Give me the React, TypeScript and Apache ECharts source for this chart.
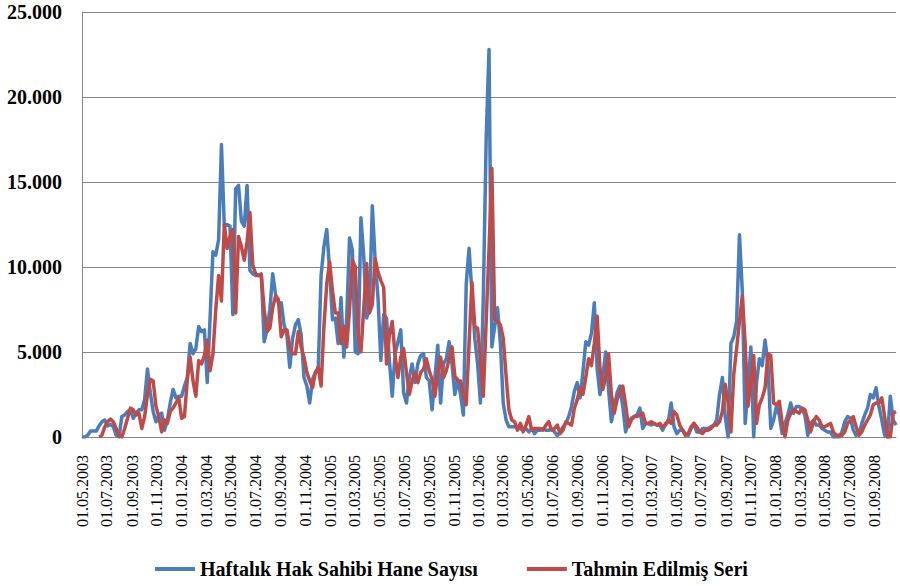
import React, { useEffect, useRef } from "react";
import * as echarts from "echarts";

const startDate = "01.05.2003";

const tickLabels = [
  "01.05.2003", "01.07.2003", "01.09.2003", "01.11.2003",
  "01.01.2004", "01.03.2004", "01.05.2004", "01.07.2004", "01.09.2004", "01.11.2004",
  "01.01.2005", "01.03.2005", "01.05.2005", "01.07.2005", "01.09.2005", "01.11.2005",
  "01.01.2006", "01.03.2006", "01.05.2006", "01.07.2006", "01.09.2006", "01.11.2006",
  "01.01.2007", "01.03.2007", "01.05.2007", "01.07.2007", "01.09.2007", "01.11.2007",
  "01.01.2008", "01.03.2008", "01.05.2008", "01.07.2008", "01.09.2008",
];

const observedName = "Haftalık Hak Sahibi Hane Sayısı";
const estimatedName = "Tahmin Edilmiş Seri";

// weekly observed values
const observed = [
  0, 0, 100, 350, 350, 350, 650, 900, 1000, 650,
  750, 600, 100, 0, 1200, 1300, 1500, 1600, 1100, 1400,
  1600, 1600, 2200, 4000, 2600, 1500, 900, 1300, 1400, 400,
  1000, 2000, 2800, 2300, 2400, 2400, 3000, 3500, 5500, 4900,
  5200, 6500, 6200, 6300, 3200, 7000, 10900, 10700, 11600, 17200,
  12400, 12500, 12400, 7200, 14600, 14800, 12700, 12400, 14800, 9800,
  9600, 9500, 9500, 9600, 5600, 6300, 7500, 9600, 8400, 7900,
  7900, 6600, 6000, 4100, 5800, 6600, 6900, 6000, 3500, 3000,
  2000, 3400, 3800, 4000, 9500, 11200, 12200, 9800, 6900, 7000,
  5500, 8200, 4700, 7000, 11700, 11000, 5000, 4900, 12900, 10600,
  7000, 7600, 13600, 10400, 8200, 4500, 7200, 7000, 4500, 2400,
  4900, 5600, 6300, 2600, 2000, 3500, 4300, 3200, 4300, 4800,
  4900, 3500, 3300, 1600, 3500, 5400, 2000, 4300, 4600, 5600,
  4300, 2500, 3400, 2500, 1300, 9000, 11100, 8500, 5800, 4300,
  2000, 8200, 17500, 22800, 5300, 6500, 7600, 5500, 2000, 1000,
  600, 600, 600, 500, 500, 400, 500, 300, 500, 200,
  400, 400, 500, 400, 400, 500, 300, 100, 300, 600,
  800, 1200, 1800, 2700, 3200, 2300, 3800, 5600, 5400, 6100,
  7900, 4000, 2500, 3600, 5000, 2800, 900, 1800, 2600, 3000,
  1800, 300, 900, 1100, 1200, 1300, 1700, 500, 800, 800,
  700, 800, 700, 700, 400, 800, 900, 2000, 600, 200,
  400, 400, 200, 100, 500, 800, 300, 300, 500, 500,
  500, 600, 700, 1000, 2500, 3500, 1200, 0, 5500, 5900,
  6800, 11900, 8600, 800, 2800, 5300, 0, 3200, 4600, 4200,
  5700, 4300, 500, 1000, 1800, 1300, 200, 800, 1300, 2000,
  1400, 1800, 1800, 1600, 1300, 100, 800, 1000, 700, 700,
  500, 400, 300, 300, 0, 0, 0, 300, 900, 1200,
  1100, 400, 100, 200, 800, 1300, 1700, 2500, 2300, 2900,
  1800, 1000, 100, 0, 2400, 1000, 700,
];

// weekly estimated values
const estimated = [
  null, null, null, null, null, null, 0, 100, 600, 900,
  1050, 900, 500, 100, 0, 500, 1100, 1700, 1600, 1300,
  1400, 500, 1200, 2500, 3400, 3300, 1800, 1200, 300, 1000,
  800, 1500, 1700, 2000, 2300, 1100, 1200, 3400, 4700, 3300,
  2400, 4500, 4300, 4800, 5700, 3900, 4900, 7500, 9500, 8000,
  12500, 11100, 11800, 12200, 7300, 11800, 11200, 10400, 11500, 13200,
  10100, 9600, 9500, 9500, 7500, 6200, 6400, 7600, 8300, 8100,
  5900, 6300, 6300, 5300, 4900, 4900, 6200, 5300, 4700, 3800,
  3300, 2900, 3800, 4100, 3000, 6500, 9000, 10300, 8600, 7300,
  7300, 5500, 6500, 5300, 7500, 10400, 10000, 6000, 5000, 7600,
  10200, 7300, 7800, 10500, 9700, 9200, 8800, 4300, 6000, 6800,
  4800, 3500, 4700, 5200, 3800, 2500, 3300, 3800, 3200, 3800,
  4000, 4600, 3900, 3400, 2400, 3800, 4700, 3500, 3900, 4600,
  5300, 3600, 3300, 3300, 2500, 1900, 5500, 9100, 6500, 6400,
  4500, 2400, 6800, 11000, 15800, 6900, 6800, 6600, 5800, 3600,
  1600, 1000, 900, 400, 800, 300, 700, 1200, 400, 500,
  500, 500, 400, 700, 900, 400, 500, 700, 200, 400,
  900, 800, 700, 1700, 2200, 2900, 2500, 3500, 4600, 4200,
  5500, 7100, 4000, 2800, 3500, 4900, 2500, 1400, 2200, 2600,
  3000, 1900, 600, 1000, 1200, 1200, 1300, 1400, 800, 800,
  900, 800, 700, 800, 600, 700, 1000, 800, 1500, 1300,
  700, 400, 100, 200, 600, 800, 600, 300, 200, 400,
  400, 500, 700, 700, 900, 1500, 3100, 2000, 300, 3700,
  5200, 6800, 8300, 5500, 1800, 3200, 4800, 800, 1900, 2300,
  2900, 4900, 4800, 2000, 1900, 2100, 800, 0, 1000, 1400,
  1600, 1500, 1400, 1700, 1600, 1000, 300, 900, 1200, 1000,
  600, 600, 700, 800, 300, 100, 100, 100, 300, 800,
  1000, 1200, 600, 100, 300, 700, 1000, 1300, 1900, 2000,
  2000, 2300, 1200, 0, 0, 1400, 1500,
];

const DAY_MS = 24 * 3600 * 1000;
const DAYS_PER_WEEK = 7;

function parseDate(s: string): number {
  const [d, m, y] = s.split(".").map(Number);
  return Date.UTC(y, m - 1, d);
}

function pad(n: number): string {
  return n < 10 ? "0" + n : String(n);
}

function formatDate(t: number): string {
  const d = new Date(t);
  return pad(d.getUTCDate()) + "." + pad(d.getUTCMonth() + 1) + "." + d.getUTCFullYear();
}

function formatThousands(v: number): string {
  const s = String(Math.round(v));
  return s.replace(/\B(?=(\d{3})+(?!\d))/g, ".");
}

export default function App() {
  const ref = useRef<HTMLDivElement>(null);

  useEffect(() => {
    if (!ref.current) return;
    const chart = echarts.init(ref.current, null, { renderer: "svg" });
    const t0 = parseDate(startDate);
    const days = observed.map((_, i) => i * DAYS_PER_WEEK);
    const tickDays = tickLabels.map((s) => Math.round((parseDate(s) - t0) / DAY_MS));
    const font = "Times New Roman, Liberation Serif, serif";

    chart.setOption({
      animation: false,
      backgroundColor: "#ffffff",
      textStyle: { fontFamily: font },
      grid: {
        left: 82,
        right: 4,
        top: 12,
        bottom: 149,
        containLabel: false,
      },
      legend: {
        left: 150,
        top: 554,
        itemWidth: 40,
        itemHeight: 4,
        itemGap: 49,
        data: [
          { name: observedName, icon: "rect" },
          { name: estimatedName, icon: "rect" },
        ],
        textStyle: {
          fontFamily: font,
          fontWeight: "bold",
          fontSize: 20,
          color: "#000000",
        },
      },
      xAxis: {
        type: "value",
        min: 0,
        max: days[days.length - 1],
        axisLine: { show: true, lineStyle: { color: "#868686", width: 1 } },
        axisTick: { show: false },
        splitLine: { show: false },
        axisLabel: {
          customValues: tickDays,
          rotate: 90,
          margin: 18,
          hideOverlap: false,
          formatter: (v: number) => formatDate(t0 + v * DAY_MS),
          fontFamily: font,
          fontSize: 16,
          color: "#000000",
        },
      },
      yAxis: {
        type: "value",
        min: 0,
        max: 25000,
        interval: 5000,
        axisLine: { show: true, lineStyle: { color: "#868686", width: 1 } },
        axisTick: { show: false },
        splitLine: { show: true, lineStyle: { color: "#868686", width: 1 } },
        axisLabel: {
          margin: 20,
          formatter: (v: number) => formatThousands(v),
          fontFamily: font,
          fontWeight: "bold",
          fontSize: 20,
          color: "#000000",
        },
      },
      series: [
        {
          name: observedName,
          type: "line",
          showSymbol: false,
          symbol: "none",
          data: days.map((x, i) => [x, observed[i]]),
          lineStyle: { color: "#4A7EBB", width: 3.5, join: "round" },
          itemStyle: { color: "#4A7EBB" },
        },
        {
          name: estimatedName,
          type: "line",
          showSymbol: false,
          symbol: "none",
          connectNulls: false,
          data: days.map((x, i) => [x, estimated[i]]),
          lineStyle: { color: "#BE4B48", width: 3.5, join: "round" },
          itemStyle: { color: "#BE4B48" },
        },
      ],
    });

    return () => {
      chart.dispose();
    };
  }, []);

  return (
    <div
      ref={ref}
      style={{ position: "fixed", left: 0, top: 0, width: 900, height: 586, background: "#fff" }}
    />
  );
}
